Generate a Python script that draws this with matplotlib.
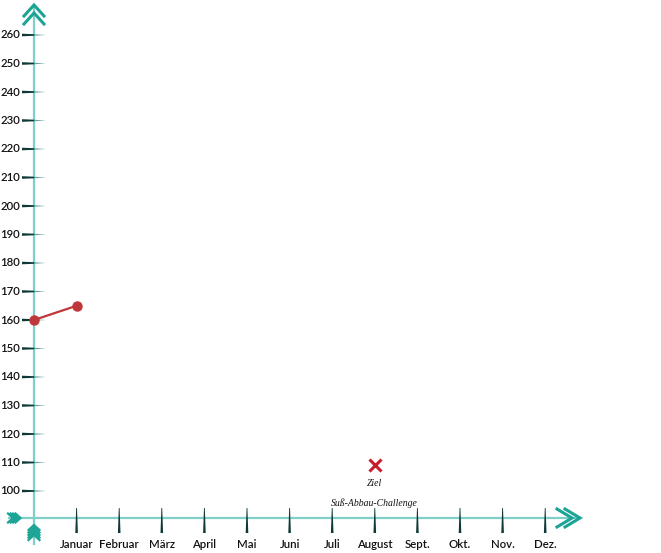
import matplotlib
matplotlib.use("Agg")
import matplotlib.pyplot as plt
from matplotlib.patches import Polygon

# ---- data ----
months = ["Januar", "Februar", "März", "April", "Mai", "Juni", "Juli",
          "August", "Sept.", "Okt.", "Nov.", "Dez."]
y_ticks = [100, 110, 120, 130, 140, 150, 160, 170, 180, 190, 200,
           210, 220, 230, 240, 250, 260]
series_x = [0, 1]
series_y = [160, 165]
goal_x = 8
goal_y = 109
goal_label_1 = "Ziel"
goal_label_2 = "Suß-Abbau-Challenge"

# ---- style ----
W, H = 661, 553
AX_COL = "#7fd0c8"
ARROW_COL = "#1ba495"
TICK_DARK = "#0d3a37"
TICK_LIGHT = "#4f958e"
RED = "#c0373a"

fig = plt.figure(figsize=(W / 100, H / 100), dpi=100)
ax = fig.add_axes([0, 0, 1, 1])
PX_X = 42.6   # pixels per month
PX_Y = 2.85   # pixels per unit
X0 = 34       # pixel of x=0
Y100 = 491    # pixel of y=100
ax.set_xlim(-X0 / PX_X, (W - X0) / PX_X)
ax.set_ylim(100 - (H - Y100) / PX_Y, 100 + Y100 / PX_Y)
ax.axis("off")

def dx(p):
    return p / PX_X

def dy(p):
    return p / PX_Y

def vy(pix):
    return 100 + (Y100 - pix) / PX_Y

y_axis_v = vy(518)  # value of x-axis line

# axis lines
ax.plot([0, 0], [vy(545), vy(6)], color=AX_COL, lw=1.6,
        solid_capstyle="butt", zorder=1)
ax.plot([dx(8 - X0), dx(578 - X0)], [y_axis_v, y_axis_v], color=AX_COL, lw=1.6,
        solid_capstyle="butt", zorder=1)

# top double chevron
for off in (0, 8):
    ax.plot([dx(-10), 0, dx(10)],
            [vy(16 + off), vy(5 + off), vy(16 + off)],
            color=ARROW_COL, lw=2.2, solid_joinstyle="miter", zorder=3)
# right double chevron
for off in (0, 8):
    ax.plot([dx(565 - off - X0), dx(580 - off - X0), dx(565 - off - X0)],
            [y_axis_v + dy(9), y_axis_v, y_axis_v - dy(9)],
            color=ARROW_COL, lw=2.2, solid_joinstyle="miter", zorder=3)
# left fletching (pointing right)
for off in (0, 2.5, 5, 7.5):
    ax.plot([dx(8 + off - X0), dx(13 + off - X0), dx(8 + off - X0)],
            [y_axis_v + dy(4.5), y_axis_v, y_axis_v - dy(4.5)],
            color=ARROW_COL, lw=1.6, solid_joinstyle="miter", zorder=3)
# bottom fletching (pointing up)
for off in (0, 2.5, 5, 7.5, 10):
    ax.plot([dx(-5.5), 0, dx(5.5)],
            [vy(540 - off), vy(535 - off), vy(540 - off)],
            color=ARROW_COL, lw=1.6, solid_joinstyle="miter", zorder=3)

# y ticks (tapered) and labels
for v in y_ticks:
    ax.add_patch(Polygon([(dx(-12), v + dy(1.3)), (dx(-12), v - dy(1.3)), (0, v - dy(0.8)), (0, v + dy(0.8))],
                         closed=True, color=TICK_DARK, lw=0, zorder=2))
    ax.add_patch(Polygon([(0, v + dy(0.8)), (0, v - dy(0.8)), (dx(12), v)],
                         closed=True, color=TICK_LIGHT, lw=0, zorder=2, alpha=0.85))
    ax.text(dx(20 - X0), v, str(v), ha="right", va="center", fontsize=8.2,
            family="Lato", weight="semibold", color="#111111")

# x ticks (tapered) and labels
for i, m in enumerate(months, start=1):
    ax.add_patch(Polygon([(i - dx(0.4), vy(508)), (i + dx(0.4), vy(508)),
                          (i + dx(1.3), vy(533)), (i - dx(1.3), vy(533))],
                         closed=True, color=TICK_DARK, lw=0, zorder=2))
    ax.text(i, vy(544), m, ha="center", va="center", fontsize=8.2,
            family="Lato", weight="semibold", color="#111111")

# data series
ax.plot(series_x, series_y, color=RED, lw=1.6, marker="o", markersize=6.5,
        markerfacecolor=RED, markeredgecolor=RED, zorder=4, clip_on=False)

# goal marker
ax.plot([goal_x], [goal_y], marker="x", markersize=9, mew=2.2, color="#c81e2c",
        linestyle="none", zorder=4)
ax.text(goal_x, vy(484), goal_label_1, ha="center", va="center",
        fontsize=7, family="Liberation Serif", style="italic", color="#111111")
ax.text(goal_x, vy(503), goal_label_2, ha="center", va="center",
        fontsize=7, family="Liberation Serif", style="italic", color="#111111")

fig.savefig("out.png", dpi=100)
